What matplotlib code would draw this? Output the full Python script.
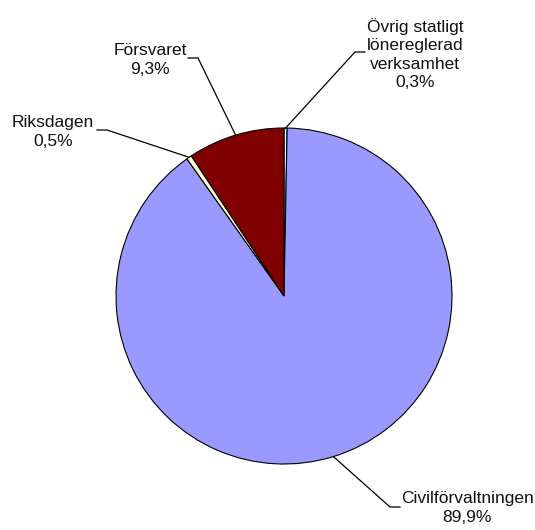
import matplotlib.pyplot as plt
import numpy as np

plt.rcParams['font.family'] = ['Liberation Sans', 'DejaVu Sans']

W, H = 535, 530

labels = ['Övrig statligt\nlönereglerad\nverksamhet', 'Civilförvaltningen', 'Riksdagen', 'Försvaret']
values = [0.3, 89.9, 0.5, 9.3]
pct_text = ['0,3%', '89,9%', '0,5%', '9,3%']
colors = ['#CCFFFF', '#9999FF', '#FFFFCC', '#800000']

# layout in pixel coords (y from top)
center = (284, 296)
radius = 168
text_pos = [(415, 54), (467, 508), (53, 132), (150, 60)]
elbow = [(355, 52), (390, 507), (107, 130), (198, 58)]
elbow_end = [(365, 52), (400, 507), (97, 130), (188, 58)]

fig = plt.figure(figsize=(W / 100, H / 100), dpi=100)
ax = fig.add_axes([0, 0, 1, 1])

wedges, _ = ax.pie(values, colors=colors, startangle=90, counterclock=False,
                   center=(center[0], H - center[1]), radius=radius,
                   wedgeprops=dict(edgecolor='black', linewidth=0.8))

for i, w in enumerate(wedges):
    mid = np.deg2rad((w.theta1 + w.theta2) / 2)
    px = center[0] + radius * np.cos(mid)
    py = (H - center[1]) + radius * np.sin(mid)
    ex, ey = elbow[i]
    fx, fy = elbow_end[i]
    ax.plot([px, ex, fx], [py, H - ey, H - fy], color='black', lw=0.9)
    tx, ty = text_pos[i]
    ax.text(tx, H - ty, labels[i] + '\n' + pct_text[i], ha='center', va='center',
            fontsize=12.5, linespacing=1.3, color='#111111')

ax.set_xlim(0, W)
ax.set_ylim(0, H)
ax.set_aspect('equal')
ax.axis('off')

fig.savefig('out.png', dpi=100)
